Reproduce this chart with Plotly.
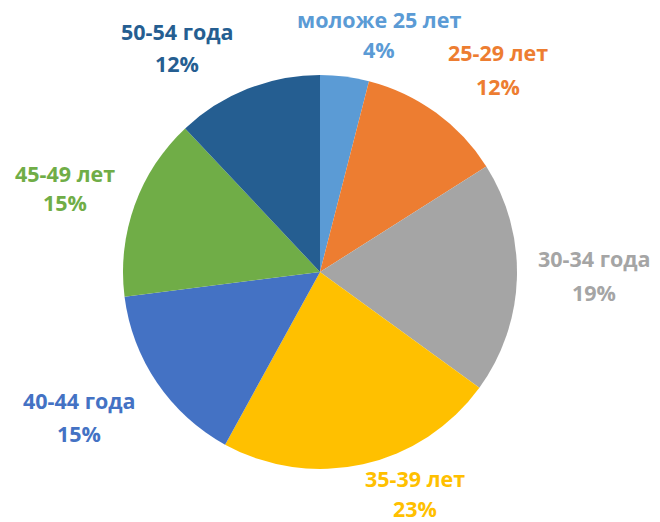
import plotly.graph_objects as go

categories = ["моложе 25 лет", "25-29 лет", "30-34 года", "35-39 лет",
              "40-44 года", "45-49 лет", "50-54 года"]
values = [4, 12, 19, 23, 15, 15, 12]
colors = ["#5B9BD5", "#ED7D31", "#A5A5A5", "#FFC000",
          "#4472C4", "#70AD47", "#255E91"]

W, H = 660, 522
cx, cy, R = 320, 272, 197

# label anchor positions (pixels: name line centre, percent line centre)
label_pos = [
    (379, 20, 49),
    (498, 53, 86),
    (594, 258, 292),
    (415, 478, 508),
    (79, 400, 433),
    (65, 174, 203),
    (177, 31, 63),
]

fig = go.Figure(go.Pie(
    labels=categories,
    values=values,
    marker=dict(colors=colors, line=dict(width=0)),
    sort=False,
    direction="clockwise",
    rotation=0,
    textinfo="none",
    hoverinfo="label+percent",
    showlegend=False,
    domain=dict(x=[(cx - R) / W, (cx + R) / W],
                y=[(H - cy - R) / H, (H - cy + R) / H]),
))

total = sum(values)
font_base = dict(family="Open Sans", size=21.5, weight="bold")
for cat, val, col, (px, py1, py2) in zip(categories, values, colors, label_pos):
    pct = f"{round(val / total * 100)}%"
    for txt, py in ((cat, py1), (pct, py2)):
        fig.add_annotation(
            text=txt, x=px / W, y=1 - py / H, xref="paper", yref="paper",
            xanchor="center", yanchor="middle", showarrow=False,
            borderpad=0,
            font=dict(color=col, **font_base),
        )

fig.update_layout(
    width=W, height=H,
    margin=dict(l=0, r=0, t=0, b=0),
    paper_bgcolor="white", plot_bgcolor="white",
)

fig.write_html("out.html",
               config={"displayModeBar": False},
               post_script="document.body.style.margin='0';"
                           "document.body.style.overflow='hidden';")
